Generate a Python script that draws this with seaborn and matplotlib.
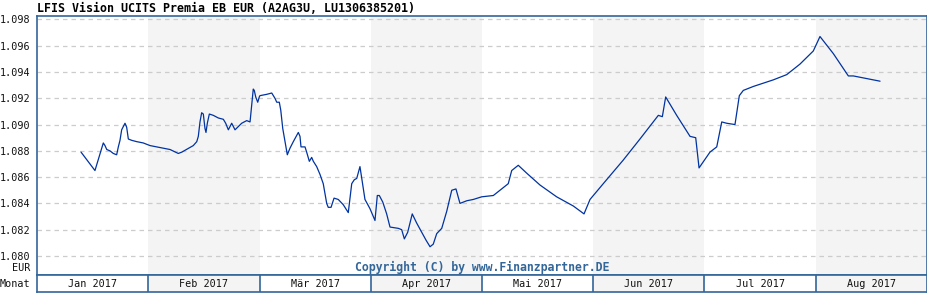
import matplotlib
matplotlib.use("Agg")
import matplotlib.pyplot as plt
import seaborn as sns
import pandas as pd
import numpy as np

# ---- data ----
title = "LFIS Vision UCITS Premia EB EUR (A2AG3U, LU1306385201)"
month_labels = ["Jan 2017", "Feb 2017", "Mär 2017", "Apr 2017",
                "Mai 2017", "Jun 2017", "Jul 2017", "Aug 2017"]
y_ticks = [1.080, 1.082, 1.084, 1.086, 1.088, 1.090, 1.092, 1.094, 1.096, 1.098]

# position in months since 1 Jan 2017 (each month drawn equally wide)
monat_pos = [0.396, 0.521, 0.596, 0.611, 0.627, 0.656, 0.686, 0.716, 0.731, 0.746,
             0.761, 0.791, 0.806, 0.821, 0.851, 0.896, 0.955, 1.016, 1.076, 1.135,
             1.196, 1.270, 1.301, 1.405, 1.436, 1.450, 1.465, 1.480, 1.495, 1.510,
             1.519, 1.531, 1.549, 1.585, 1.630, 1.675, 1.696, 1.720, 1.750, 1.780,
             1.840, 1.885, 1.915, 1.930, 1.944, 1.953, 1.966, 1.984, 1.998, 2.004,
             2.065, 2.110, 2.139, 2.155, 2.178, 2.191, 2.209, 2.229, 2.250, 2.274,
             2.304, 2.349, 2.364, 2.373, 2.409, 2.424, 2.448, 2.469, 2.484, 2.514,
             2.544, 2.573, 2.604, 2.618, 2.643, 2.670, 2.708, 2.753, 2.798, 2.829,
             2.852, 2.874, 2.903, 2.919, 2.948, 2.993, 3.038, 3.059, 3.077, 3.108,
             3.143, 3.173, 3.248, 3.278, 3.302, 3.332, 3.373, 3.413, 3.458, 3.497,
             3.533, 3.562, 3.593, 3.638, 3.683, 3.728, 3.766, 3.802, 3.863, 3.922,
             3.997, 4.102, 4.162, 4.236, 4.267, 4.326, 4.402, 4.521, 4.671, 4.821,
             4.917, 4.971, 5.090, 5.270, 5.420, 5.585, 5.621, 5.651, 5.750, 5.870,
             5.921, 5.951, 6.049, 6.110, 6.155, 6.199, 6.274, 6.313, 6.349, 6.439,
             6.618, 6.739, 6.858, 6.978, 7.038, 7.158, 7.293, 7.338, 7.458, 7.578]

kurs = [1.0879, 1.0865, 1.0886, 1.0884, 1.0881, 1.0880, 1.0878, 1.0877, 1.0883, 1.0888,
        1.0896, 1.0901, 1.0898, 1.0889, 1.0888, 1.0887, 1.0886, 1.0884, 1.0883, 1.0882,
        1.0881, 1.0878, 1.0879, 1.0884, 1.0887, 1.0891, 1.0902, 1.0909, 1.0908, 1.0897,
        1.0894, 1.0901, 1.0908, 1.0907, 1.0905, 1.0904, 1.0901, 1.0896, 1.0901, 1.0896,
        1.0901, 1.0903, 1.0902, 1.0915, 1.0927, 1.0926, 1.0921, 1.0917, 1.0921, 1.0922,
        1.0923, 1.0924, 1.0920, 1.0917, 1.0917, 1.0911, 1.0897, 1.0887, 1.0877, 1.0882,
        1.0887, 1.0894, 1.0891, 1.0883, 1.0883, 1.0879, 1.0872, 1.0875, 1.0872, 1.0868,
        1.0862, 1.0855, 1.0840, 1.0837, 1.0837, 1.0844, 1.0843, 1.0839, 1.0833, 1.0855,
        1.0858, 1.0859, 1.0868, 1.0859, 1.0843, 1.0836, 1.0827, 1.0846, 1.0846, 1.0841,
        1.0832, 1.0822, 1.0821, 1.0820, 1.0813, 1.0818, 1.0832, 1.0825, 1.0818, 1.0812,
        1.0807, 1.0809, 1.0817, 1.0821, 1.0834, 1.0850, 1.0851, 1.0840, 1.0842, 1.0843,
        1.0845, 1.0846, 1.0850, 1.0855, 1.0865, 1.0869, 1.0863, 1.0854, 1.0845, 1.0838,
        1.0832, 1.0843, 1.0855, 1.0873, 1.0889, 1.0907, 1.0906, 1.0921, 1.0907, 1.0891,
        1.0890, 1.0867, 1.0879, 1.0883, 1.0902, 1.0901, 1.0900, 1.0922, 1.0926, 1.0929,
        1.0934, 1.0938, 1.0946, 1.0956, 1.0967, 1.0954, 1.0937, 1.0937, 1.0935, 1.0933]

df = pd.DataFrame({"Monat": monat_pos, "EUR": kurs})

# ---- style ----
sns.set_style("white")
plt.rcParams["font.family"] = ["DejaVu Sans Mono", "DejaVu Sans"]

frame_col = "#336699"
line_col = "#0033a0"
shade_col = "#f4f4f4"
grid_col = "#cccccc"

fig = plt.figure(figsize=(9.28, 3.0), dpi=100)
W, H = 928, 300
ax = fig.add_axes([37 / W, 1 - 275 / H, 890 / W, 259.5 / H])
axm = fig.add_axes([37 / W, 1 - 292 / H, 890 / W, 17 / H])

n_months = len(month_labels)
for a in (ax, axm):
    a.set_xlim(0, n_months)
    for i in range(n_months):
        if i % 2 == 1:
            a.axvspan(i, i + 1, color=shade_col, lw=0, zorder=0)
    for s in a.spines.values():
        s.set_color(frame_col)
        s.set_linewidth(1.2)
        s.set_visible(True)

# grid
ax.set_ylim(1.07855, 1.0983)
ax.set_yticks(y_ticks)
ax.set_yticklabels([f"{v:.3f}" for v in y_ticks], fontsize=7.3, color="#111111")
for v in y_ticks:
    ax.axhline(v, color=grid_col, lw=0.9, ls=(0, (3.6, 3.2)), zorder=1)
ax.tick_params(axis="y", length=0, pad=5)
ax.set_xticks([])

sns.lineplot(data=df, x="Monat", y="EUR", ax=ax, color=line_col, lw=0.9,
             sort=False, zorder=3)
ax.set_xlabel("")
ax.set_ylabel("")

ax.text(0.5, 0.004, "Copyright (C) by www.Finanzpartner.DE", transform=ax.transAxes,
        ha="center", va="bottom", fontsize=8.3, fontweight="bold", color=frame_col)

# month band
axm.set_ylim(0, 1)
axm.set_yticks([])
axm.set_xticks([])
for i in range(1, n_months):
    axm.axvline(i, color=frame_col, lw=1.2)
for i, lab in enumerate(month_labels):
    axm.text(i + 0.5, 0.45, lab, ha="center", va="center", fontsize=7.3, color="#111111")

fig.text(30 / W, 1 - 268 / H, "EUR", ha="right", va="center", fontsize=7.3, color="#111111")
fig.text(30 / W, 1 - 284 / H, "Monat", ha="right", va="center", fontsize=7.3, color="#111111")
fig.text(37 / W, 1 - 8 / H, title, ha="left", va="center", fontsize=8.4,
         fontweight="bold", color="#000000")

fig.savefig("out.png", dpi=100)
